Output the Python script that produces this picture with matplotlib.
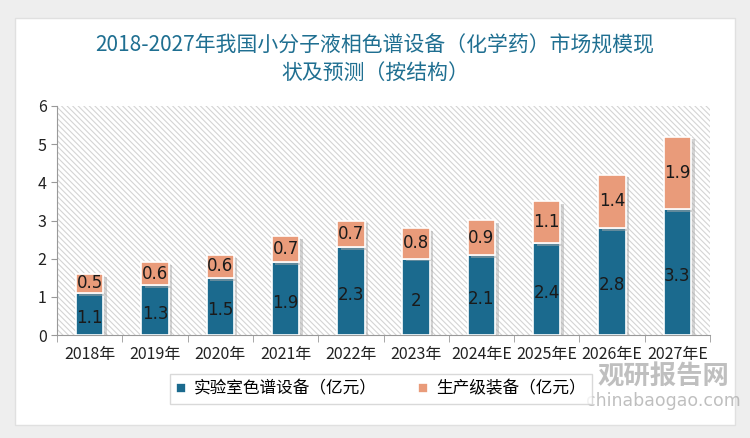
import numpy as np
import matplotlib.pyplot as plt
from matplotlib.patches import Rectangle
import matplotlib.patheffects as pe

plt.rcParams['font.family'] = ['Noto Sans CJK SC', 'DejaVu Sans']
plt.rcParams['hatch.color'] = "#d4d4d4"
plt.rcParams['hatch.linewidth'] = 0.8

years = ["2018年", "2019年", "2020年", "2021年", "2022年", "2023年",
         "2024年E", "2025年E", "2026年E", "2027年E"]
lab = [1.1, 1.3, 1.5, 1.9, 2.3, 2.0, 2.1, 2.4, 2.8, 3.3]
prod = [0.5, 0.6, 0.6, 0.7, 0.7, 0.8, 0.9, 1.1, 1.4, 1.9]
lab_txt = ["1.1", "1.3", "1.5", "1.9", "2.3", "2", "2.1", "2.4", "2.8", "3.3"]
prod_txt = ["0.5", "0.6", "0.6", "0.7", "0.7", "0.8", "0.9", "1.1", "1.4", "1.9"]

blue = "#1b6a8e"
orange = "#e99b7a"

fig = plt.figure(figsize=(7.5, 4.38), dpi=100)
fig.patch.set_facecolor("#eeeeee")
fig.patches.append(Rectangle((15 / 750, 13 / 438), 720 / 750, 407 / 438,
                             transform=fig.transFigure, facecolor="white",
                             edgecolor="#e0e0e0", zorder=-10))

fig.text(0.5, 1 - 45 / 438, "2018-2027年我国小分子液相色谱设备（化学药）市场规模现",
         ha="center", va="center", fontsize=15, color="#1f6f91")
fig.text(0.5, 1 - 73 / 438, "状及预测（按结构）",
         ha="center", va="center", fontsize=15, color="#1f6f91")

ax = fig.add_axes([57 / 750, 1 - 335 / 438, 653 / 750, 229 / 438])
ax.set_facecolor("white")
ax.add_patch(Rectangle((0, 0), 1, 1, transform=ax.transAxes, facecolor="white",
                       hatch="\\\\\\\\\\\\", linewidth=0, zorder=0))

x = np.arange(len(years))
shadow = [pe.SimplePatchShadow(offset=(2.5, -2), shadow_rgbFace="#aaaaaa", alpha=0.5), pe.Normal()]
b1 = ax.bar(x, lab, width=0.42, color=blue, edgecolor="white", linewidth=1.2,
            label="实验室色谱设备（亿元）", zorder=3, path_effects=shadow)
b2 = ax.bar(x, prod, width=0.42, bottom=lab, color=orange, edgecolor="white", linewidth=1.2,
            label="生产级装备（亿元）", zorder=3, path_effects=shadow)

for i in range(len(years)):
    ax.text(x[i], lab[i] / 2 - 0.1, lab_txt[i], ha="center", va="center",
            fontsize=12, color="#1a1a1a", zorder=5, family="DejaVu Sans")
    ax.text(x[i], lab[i] + prod[i] / 2, prod_txt[i], ha="center", va="center",
            fontsize=12, color="#1a1a1a", zorder=5, family="DejaVu Sans")

ax.set_xlim(-0.5, len(years) - 0.5)
ax.set_ylim(0, 6)
ax.set_yticks(range(7))
ax.set_xticks(x)
ax.set_xticklabels(years, fontsize=11.5, color="#222222")
ax.set_xticks(np.arange(-0.5, len(years), 1), minor=True)
ax.tick_params(axis="x", which="major", length=0, pad=8)
ax.tick_params(axis="x", which="minor", length=5, color="#999999")
ax.tick_params(axis="y", length=4, color="#999999", labelsize=11.5, labelcolor="#222222")
for s in ["top", "right"]:
    ax.spines[s].set_visible(False)
for s in ["left", "bottom"]:
    ax.spines[s].set_color("#999999")

leg = fig.legend(handles=[b1, b2], loc="center", bbox_to_anchor=(381 / 750, 1 - 389 / 438),
                 ncol=2, fontsize=12, frameon=True, fancybox=False, handlelength=0.55,
                 handleheight=0.55, columnspacing=2.5, handletextpad=0.5)
leg.get_frame().set_edgecolor("#d0d0d0")
for h in leg.legend_handles:
    h.set_path_effects([])

fig.text(663 / 750, 1 - 377 / 438, "观研报告网", ha="center", va="center",
         fontsize=19, color="#b0b0b0", alpha=0.8, weight="bold")
fig.text(663 / 750, 1 - 401 / 438, "chinabaogao.com", ha="center", va="center",
         fontsize=12.5, color="#b0b0b0", alpha=0.8, family="DejaVu Sans")

fig.savefig("out.png", dpi=100, facecolor=fig.get_facecolor())
